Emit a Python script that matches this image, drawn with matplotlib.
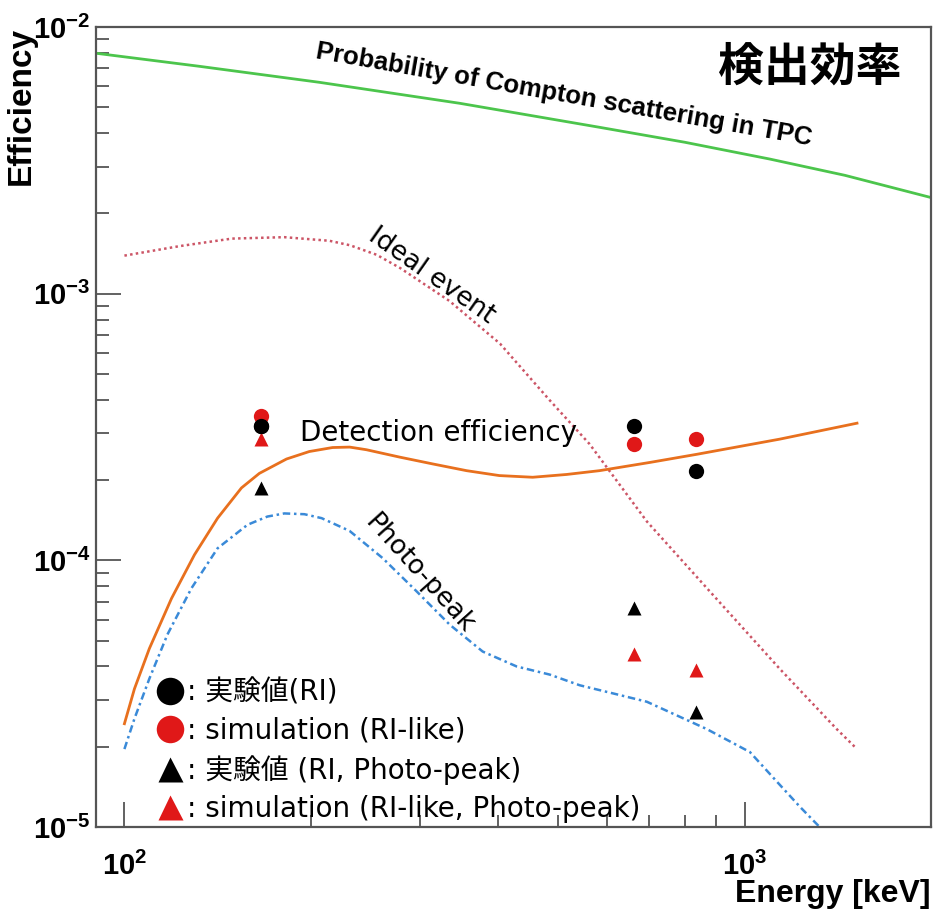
import matplotlib
matplotlib.use('Agg')
import matplotlib.pyplot as plt
from matplotlib.ticker import FixedLocator, FixedFormatter, NullFormatter

plt.rcParams['font.family'] = ['DejaVu Sans', 'Noto Sans CJK JP']
plt.rcParams['mathtext.fontset'] = 'custom'
plt.rcParams['mathtext.rm'] = 'Liberation Sans'
plt.rcParams['mathtext.bf'] = 'Liberation Sans:bold'

# probability of compton scattering in the TPC
compton_e = [90, 132, 206, 347, 583, 800, 1097, 1450, 1988]
compton_eff = [7.98e-3, 7.13e-3, 6.21e-3, 5.18e-3, 4.21e-3, 3.70e-3, 3.20e-3, 2.78e-3, 2.30e-3]

# ideal event
ideal_e = [100, 123, 149, 181, 214, 231, 255, 278, 334, 403, 484, 562, 695, 887, 1137, 1406, 1503]
ideal_eff = [1.39e-3, 1.51e-3, 1.61e-3, 1.63e-3, 1.58e-3, 1.52e-3, 1.40e-3, 1.25e-3, 9.4e-4,
             6.5e-4, 4.0e-4, 2.73e-4, 1.40e-4, 7.45e-5, 3.93e-5, 2.33e-5, 2.0e-5]

# detection efficiency (simulation)
det_e = [100, 103.8, 109.7, 119.1, 129.7, 141.3, 154.4, 165, 182.5, 198.6, 216.5, 230.7,
         245.5, 277.6, 314, 356, 402, 455, 516, 583, 703, 837, 1139, 1516]
det_eff = [2.44e-5, 3.30e-5, 4.67e-5, 7.20e-5, 1.05e-4, 1.44e-4, 1.87e-4, 2.12e-4, 2.40e-4,
           2.56e-4, 2.65e-4, 2.66e-4, 2.60e-4, 2.44e-4, 2.30e-4, 2.17e-4, 2.08e-4, 2.05e-4,
           2.10e-4, 2.17e-4, 2.33e-4, 2.50e-4, 2.85e-4, 3.27e-4]

# photo-peak (simulation)
pp_e = [100, 103.8, 109.7, 117.3, 128.2, 141.3, 157.9, 170, 181, 195, 207.9, 230.6, 260.7,
        295.8, 334.4, 378, 428.8, 484.6, 542, 620, 695, 868, 1019, 1126, 1227, 1331]
pp_eff = [1.96e-5, 2.55e-5, 3.60e-5, 5.27e-5, 7.85e-5, 1.11e-4, 1.36e-4, 1.46e-4, 1.50e-4,
          1.49e-4, 1.44e-4, 1.29e-4, 1.02e-4, 7.65e-5, 5.74e-5, 4.55e-5, 4.0e-5, 3.73e-5,
          3.40e-5, 3.15e-5, 2.95e-5, 2.33e-5, 1.91e-5, 1.48e-5, 1.19e-5, 9.8e-6]

# RI sources: Ce-139, Cs-137, Mn-54
ri_e = [166, 662, 835]
exp_eff = [3.19e-4, 3.19e-4, 2.16e-4]
sim_eff = [3.47e-4, 2.73e-4, 2.85e-4]
exp_pp_eff = [1.87e-4, 6.6e-5, 2.70e-5]
sim_pp_eff = [2.85e-4, 4.44e-5, 3.89e-5]

legend_labels = [': 実験値(RI)', ': simulation (RI-like)',
                 ': 実験値 (RI, Photo-peak)', ': simulation (RI-like, Photo-peak)']

xticks = [100, 1000]
xtick_labels = [r'$\mathbf{10^{2}}$', r'$\mathbf{10^{3}}$']
yticks = [1e-5, 1e-4, 1e-3, 1e-2]
ytick_labels = [r'$\mathbf{10^{-5}}$', r'$\mathbf{10^{-4}}$', r'$\mathbf{10^{-3}}$', r'$\mathbf{10^{-2}}$']

fig = plt.figure(figsize=(9.35, 9.1), dpi=100)
ax = fig.add_axes([0.1027, 0.0912, 0.893, 0.879])
ax.set_xscale('log')
ax.set_yscale('log')

ax.plot(compton_e, compton_eff, color='#4cc54c', lw=2)
ax.plot(ideal_e, ideal_eff, color='#cc5566', lw=1.8, dashes=(1, 1.3))
ax.plot(det_e, det_eff, color='#e8701e', lw=2)
ax.plot(pp_e, pp_eff, color='#3a8ad8', lw=1.8, dashes=(3, 1.5, 1, 1.5))

h1, = ax.plot(ri_e, exp_eff, 'o', color='black', ms=11, mec='none')
h2, = ax.plot(ri_e, sim_eff, 'o', color='#e01818', ms=11, mec='none')
h3, = ax.plot(ri_e, exp_pp_eff, '^', color='black', ms=10, mec='none')
h4, = ax.plot(ri_e, sim_pp_eff, '^', color='#e01818', ms=10, mec='none')
# black circle on top at 166 keV like the original
ax.plot(ri_e[:1], exp_eff[:1], 'o', color='black', ms=11, mec='none')

ax.legend([h1, h2, h3, h4], legend_labels, loc='lower left', bbox_to_anchor=(0.05, -0.019),
          frameon=False, fontsize=20, markerscale=1.8, handlelength=0.9,
          handletextpad=0.16, labelspacing=0.36, borderpad=0.2)

ax.set_xlim(90, 1995)
ax.set_ylim(1e-5, 1e-2)

ax.xaxis.set_major_locator(FixedLocator(xticks))
ax.xaxis.set_major_formatter(FixedFormatter(xtick_labels))
ax.xaxis.set_minor_locator(FixedLocator([200, 300, 400, 500, 600, 700, 800, 900]))
ax.xaxis.set_minor_formatter(NullFormatter())
ax.yaxis.set_major_locator(FixedLocator(yticks))
ax.yaxis.set_major_formatter(FixedFormatter(ytick_labels))
ax.yaxis.set_minor_locator(FixedLocator([m * 10.0 ** e for e in (-5, -4, -3) for m in range(2, 10)]))
ax.yaxis.set_minor_formatter(NullFormatter())

ax.tick_params(which='both', direction='in', color='#555555', width=1.3, top=False, right=False)
ax.tick_params(which='major', length=18, labelsize=21)
ax.tick_params(which='minor', length=9)
ax.tick_params(axis='x', which='major', pad=18)
ax.tick_params(axis='y', which='major', pad=4)
for s in ax.spines.values():
    s.set_color('#555555')
    s.set_linewidth(1.6)

ax.set_xlabel('Energy [keV]', loc='right', fontsize=23, fontweight='bold', family='Liberation Sans')
ax.xaxis.set_label_coords(1.0, -0.065)
ax.set_ylabel('Efficiency', loc='top', fontsize=24, fontweight='bold', family='Liberation Sans')
ax.yaxis.set_label_coords(-0.071, 1.0)

ax.text(510, 5.57e-3, 'Probability of Compton scattering in TPC', rotation=-10,
        rotation_mode='anchor', ha='center', va='center', fontsize=18.5,
        fontweight='bold', family='Liberation Sans')
ax.text(0.855, 0.949, '検出効率', transform=ax.transAxes, ha='center', va='center',
        fontsize=33, fontweight='bold', family='Noto Sans CJK JP')
ax.text(313, 1.17e-3, 'Ideal event', rotation=-35, rotation_mode='anchor',
        ha='center', va='center', fontsize=19)
ax.text(192, 3.0e-4, 'Detection efficiency', ha='left', va='center', fontsize=20)
ax.text(299, 8.9e-5, 'Photo-peak', rotation=-48, rotation_mode='anchor',
        ha='center', va='center', fontsize=19)

fig.savefig('out.png', dpi=100)
